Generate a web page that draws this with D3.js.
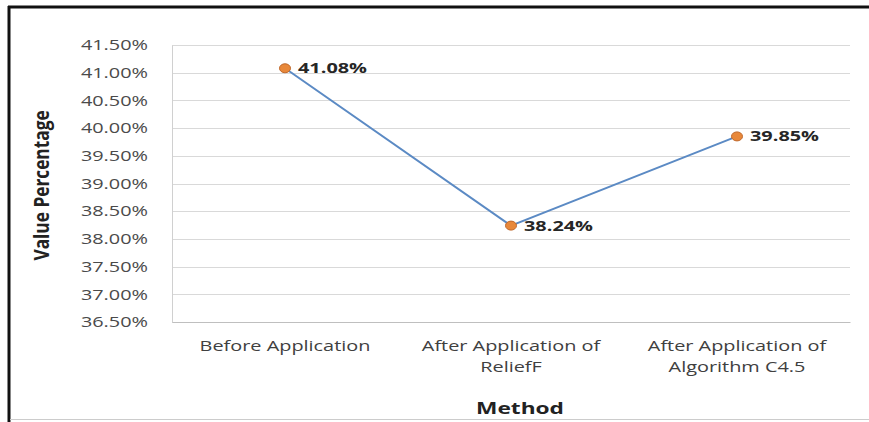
<!DOCTYPE html>
<html>
<head>
<meta charset="utf-8">
<script src="https://cdn.jsdelivr.net/npm/d3@7"></script>
<style>
  html, body { margin: 0; padding: 0; background: #fff; }
  svg { display: block; }
</style>
</head>
<body>
<svg id="chart" width="869" height="422"></svg>
<script>
// Categories (x axis), one entry per text line, and the plotted percentages
const categories = [
  ["Before Application"],
  ["After Application of", "ReliefF"],
  ["After Application of", "Algorithm C4.5"]
];
const values = [41.08, 38.24, 39.85];
const yTicks = [36.5, 37.0, 37.5, 38.0, 38.5, 39.0, 39.5, 40.0, 40.5, 41.0, 41.5];

const svg = d3.select("#chart");
const W = 869, H = 422;
const margin = { left: 172, right: 19, top: 45, bottom: 100 };
const innerW = W - margin.left - margin.right;
const innerH = H - margin.top - margin.bottom;
const FONT = "'Open Sans', sans-serif";
const SX = 1.42;   // wide lettering: horizontal stretch applied to all horizontal text

// Places a text element at (x, y) with the horizontal stretch
function stretched(sel, x, y) {
  return sel.attr("x", 0).attr("y", 0)
    .attr("transform", `translate(${x},${y}) scale(${SX},1)`);
}

// Frame of the chart area
svg.append("line").attr("x1", 9).attr("x2", 9).attr("y1", 6).attr("y2", 422)
  .attr("stroke", "#111").attr("stroke-width", 3);
svg.append("line").attr("x1", 8).attr("x2", 869).attr("y1", 7).attr("y2", 7)
  .attr("stroke", "#111").attr("stroke-width", 3);
svg.append("line").attr("x1", 10).attr("x2", 869).attr("y1", 419.5).attr("y2", 419.5)
  .attr("stroke", "#ccc").attr("stroke-width", 1);

const g = svg.append("g").attr("transform", `translate(${margin.left},${margin.top})`);

const x = d3.scaleBand().domain(categories.map((d, i) => i)).range([0, innerW]);
const y = d3.scaleLinear().domain([36.5, 41.5]).range([innerH, 0]);

// Horizontal gridlines
g.append("g").selectAll("line").data(yTicks).join("line")
  .attr("x1", 0).attr("x2", innerW)
  .attr("y1", d => Math.round(y(d)) + 0.5).attr("y2", d => Math.round(y(d)) + 0.5)
  .attr("stroke", "#d9d9d9").attr("stroke-width", 1.2);

// Y axis
const yAxis = g.append("g")
  .call(d3.axisLeft(y).tickValues(yTicks).tickSize(0)
    .tickFormat(d => d.toFixed(2) + "%"));
yAxis.select(".domain").attr("stroke", "#d0d0d0");
yAxis.selectAll(".tick text")
  .attr("font-family", FONT).attr("font-size", 14)
  .attr("fill", "#4a4a4a").attr("dy", "0.34em")
  .each(function() { stretched(d3.select(this), -24, 0); });

// X axis
const xAxis = g.append("g").attr("transform", `translate(0,${innerH})`)
  .call(d3.axisBottom(x).tickSize(0).tickFormat(""));
xAxis.select(".domain").attr("stroke", "#bfbfbf").attr("stroke-width", 1.2);
xAxis.selectAll(".tick").each(function(d) {
  const tick = d3.select(this);
  categories[d].forEach((line, k) => {
    stretched(tick.append("text"), 0, 29 + k * 21)
      .attr("text-anchor", "middle")
      .attr("font-family", FONT).attr("font-size", 14)
      .attr("fill", "#404040")
      .text(line);
  });
});

// Line
const cx = i => x(i) + x.bandwidth() / 2;
g.append("path").datum(values)
  .attr("fill", "none").attr("stroke", "#5b8ac4").attr("stroke-width", 2)
  .attr("d", d3.line().x((d, i) => cx(i)).y(d => y(d)));

// Markers
g.selectAll("ellipse.pt").data(values).join("ellipse")
  .attr("class", "pt")
  .attr("cx", (d, i) => cx(i)).attr("cy", d => y(d)).attr("rx", 5.5).attr("ry", 4.5)
  .attr("fill", "#e8883a").attr("stroke", "#c0682a").attr("stroke-width", 1);

// Data labels
g.selectAll("text.lbl").data(values).join("text")
  .attr("class", "lbl")
  .each(function(d, i) { stretched(d3.select(this), cx(i) + 13, y(d) + 5); })
  .attr("font-family", FONT).attr("font-size", 14)
  .attr("font-weight", "bold").attr("fill", "#262626")
  .text(d => d.toFixed(2) + "%");

// Axis titles
svg.append("text")
  .attr("transform", `translate(49,${margin.top + innerH / 2 + 2}) rotate(-90) scale(1.08,1.35)`)
  .attr("text-anchor", "middle")
  .attr("font-family", FONT)
  .attr("font-size", 16).attr("font-weight", "bold").attr("fill", "#222")
  .text("Value Percentage");

stretched(svg.append("text"), margin.left + innerW / 2 + 9, 414)
  .attr("text-anchor", "middle")
  .attr("font-family", FONT)
  .attr("font-size", 16).attr("font-weight", "bold").attr("fill", "#222")
  .text("Method");
</script>
</body>
</html>
